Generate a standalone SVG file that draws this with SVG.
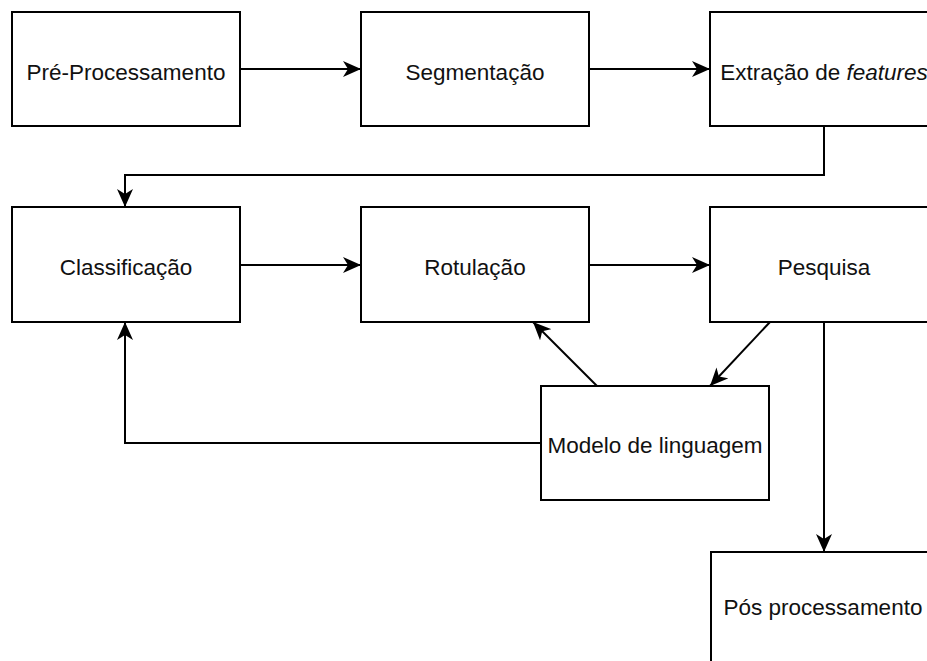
<svg xmlns="http://www.w3.org/2000/svg" width="927" height="661" viewBox="0 0 927 661">
<style>
.box{fill:#fff;stroke:#000;stroke-width:2}
.lbl{font-family:"Liberation Sans",Arial,Helvetica,sans-serif;font-size:22.5px;fill:#111;text-anchor:middle}
.edge{fill:none;stroke:#000;stroke-width:2}
</style>
<defs>
<marker id="arr" viewBox="0 0 18 16" refX="18" refY="8" markerWidth="18" markerHeight="16" markerUnits="userSpaceOnUse" orient="auto">
<path d="M0,0 L18,8 L0,16 L5,8 Z" fill="#000"/>
</marker>
</defs>
<rect width="927" height="661" fill="#fff"/>
<g id="connectors">
<path class="edge" d="M240,69 L361,69" marker-end="url(#arr)"/>
<path class="edge" d="M589,69 L710,69" marker-end="url(#arr)"/>
<path class="edge" d="M824,126 L824,175 L125,175 L125,207" marker-end="url(#arr)"/>
<path class="edge" d="M240,265 L361,265" marker-end="url(#arr)"/>
<path class="edge" d="M589,265 L710,265" marker-end="url(#arr)"/>
<path class="edge" d="M597,386 L533,322" marker-end="url(#arr)"/>
<path class="edge" d="M770,322 L710,386" marker-end="url(#arr)"/>
<path class="edge" d="M541,443 L125,443 L125,322" marker-end="url(#arr)"/>
<path class="edge" d="M824,322 L824,552" marker-end="url(#arr)"/>
</g>
<g id="pre"><rect class="box" x="12" y="12" width="228" height="114"/><text class="lbl" x="126" y="80">Pré-Processamento</text></g>
<g id="seg"><rect class="box" x="361" y="12" width="228" height="114"/><text class="lbl" x="475" y="80">Segmentação</text></g>
<g id="ext"><rect class="box" x="710" y="12" width="228" height="114"/><text class="lbl" x="824" y="80">Extração de <tspan font-style="italic">features</tspan></text></g>
<g id="cla"><rect class="box" x="12" y="207" width="228" height="115"/><text class="lbl" x="126" y="275">Classificação</text></g>
<g id="rot"><rect class="box" x="361" y="207" width="228" height="115"/><text class="lbl" x="475" y="275">Rotulação</text></g>
<g id="pes"><rect class="box" x="710" y="207" width="228" height="115"/><text class="lbl" x="824" y="275">Pesquisa</text></g>
<g id="mod"><rect class="box" x="541" y="386" width="228" height="114"/><text class="lbl" x="655" y="453">Modelo de linguagem</text></g>
<g id="pos"><rect class="box" x="711" y="552" width="228" height="114"/><text class="lbl" x="823" y="615">Pós processamento</text></g>
</svg>
